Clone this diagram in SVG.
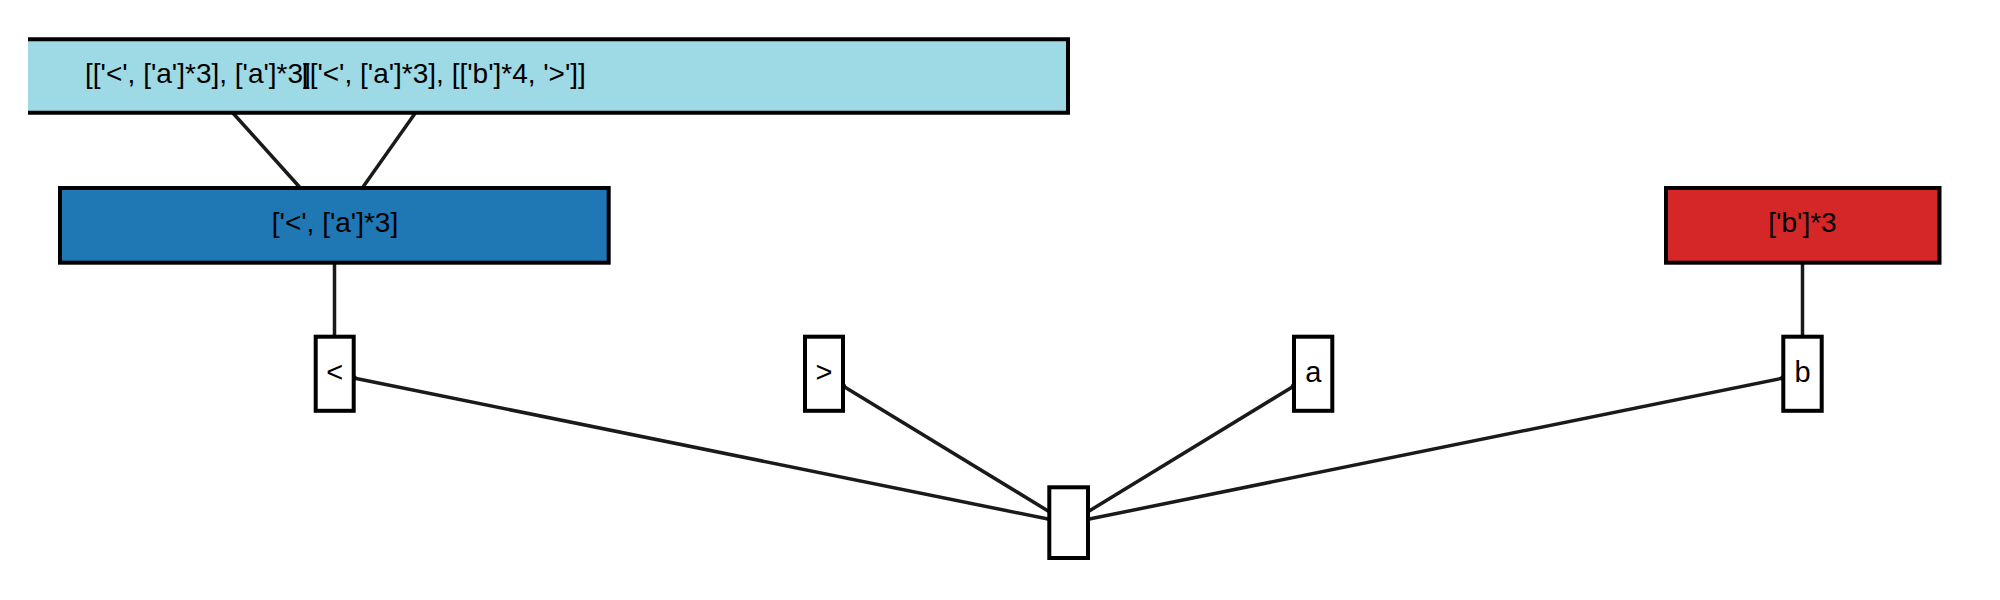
<svg xmlns="http://www.w3.org/2000/svg" width="2000" height="600" viewBox="0 0 2000 600">
<style>
  .box { stroke: #000; stroke-width: 4; }
  .lbl { font-family: "Liberation Sans", Arial, sans-serif; font-size: 28px; fill: #000; }
  .small { font-family: "Liberation Sans", Arial, sans-serif; font-size: 29px; fill: #000; text-anchor: middle; }
  .edge { stroke: #1a1a1a; stroke-width: 3.5; fill: none; }
</style>
<defs>
  <marker id="dot" markerUnits="userSpaceOnUse" markerWidth="8" markerHeight="8" refX="4" refY="4" orient="auto">
    <circle cx="4" cy="4" r="3" fill="#1a1a1a"/>
  </marker>
</defs>
<rect width="2000" height="600" fill="#fff"/>
<g id="connectors">
  <line class="edge" x1="232" y1="112" x2="299.5" y2="187"/>
  <line class="edge" x1="416" y1="112" x2="363" y2="187"/>
  <line class="edge" x1="334.5" y1="262.7" x2="334.5" y2="336.7"/>
  <line class="edge" x1="1802.5" y1="262.7" x2="1802.5" y2="336.7"/>
  <line class="edge" x1="1049.3" y1="519.3" x2="353.7" y2="378" marker-end="url(#dot)"/>
  <line class="edge" x1="1049.3" y1="511.7" x2="843" y2="386" marker-end="url(#dot)"/>
  <line class="edge" x1="1088" y1="511.7" x2="1294" y2="386" marker-end="url(#dot)"/>
  <line class="edge" x1="1088" y1="519.3" x2="1783.3" y2="378" marker-end="url(#dot)"/>
</g>
<g id="node-root">
  <rect x="28" y="39.3" width="1040" height="73.4" fill="#9edae5"/>
  <path d="M28 39.3 H1068 V112.7 H28" fill="none" stroke="#000" stroke-width="4"/>
  <text class="lbl" x="85" y="83">[['&lt;', ['a']*3], ['a']*3]<tspan dx="-9">[['&lt;', ['a']*3], [['b']*4, '&gt;']]</tspan></text>
</g>
<g id="node-lt-a3">
  <rect class="box" x="60" y="188" width="548.7" height="74.7" fill="#1f77b4"/>
  <text class="lbl" x="335" y="231.5" text-anchor="middle">['&lt;', ['a']*3]</text>
</g>
<g id="node-b3">
  <rect class="box" x="1666" y="188" width="273.5" height="74.7" fill="#d62728"/>
  <text class="lbl" x="1802.5" y="231.5" text-anchor="middle">['b']*3</text>
</g>
<g id="node-lt">
  <rect class="box" x="315.7" y="336.7" width="38" height="74.1" fill="#fff"/>
  <text class="small" x="334.7" y="382">&lt;</text>
</g>
<g id="node-gt">
  <rect class="box" x="805" y="336.7" width="38" height="74.1" fill="#fff"/>
  <text class="small" x="824" y="382">&gt;</text>
</g>
<g id="node-a">
  <rect class="box" x="1294" y="336.7" width="38.3" height="74.1" fill="#fff"/>
  <text class="small" x="1313.2" y="382">a</text>
</g>
<g id="node-b">
  <rect class="box" x="1783.3" y="336.7" width="38.4" height="74.1" fill="#fff"/>
  <text class="small" x="1802.5" y="382">b</text>
</g>
<g id="node-empty">
  <rect class="box" x="1049.3" y="487.3" width="38.7" height="70.7" fill="#fff"/>
</g>
</svg>
